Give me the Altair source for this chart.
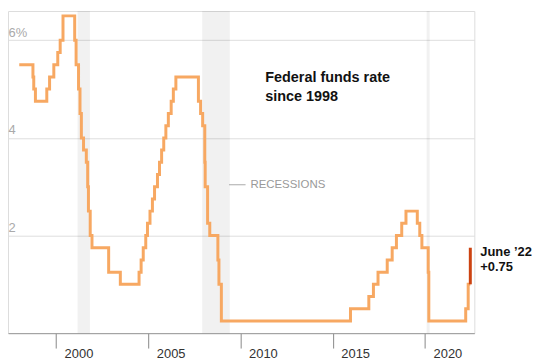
import altair as alt
import pandas as pd

# Fed funds target rate (upper bound), change dates and new levels
change_dates = [
    "1998-01-01", "1998-09-29", "1998-10-15", "1998-11-17", "1999-06-30",
    "1999-08-24", "1999-11-16", "2000-02-02", "2000-03-21", "2000-05-16",
    "2001-01-03", "2001-01-31", "2001-03-20", "2001-04-18", "2001-05-15",
    "2001-06-27", "2001-08-21", "2001-09-17", "2001-10-02", "2001-11-06",
    "2001-12-11", "2002-11-06", "2003-06-25", "2004-06-30", "2004-08-10",
    "2004-09-21", "2004-11-10", "2004-12-14", "2005-02-02", "2005-03-22",
    "2005-05-03", "2005-06-30", "2005-08-09", "2005-09-20", "2005-11-01",
    "2005-12-13", "2006-01-31", "2006-03-28", "2006-05-10", "2006-06-29",
    "2007-09-18", "2007-10-31", "2007-12-11", "2008-01-22", "2008-01-30",
    "2008-03-18", "2008-04-30", "2008-10-08", "2008-10-29", "2008-12-16",
    "2015-12-16", "2016-12-14", "2017-03-15", "2017-06-14", "2017-12-13",
    "2018-03-21", "2018-06-13", "2018-09-26", "2018-12-19", "2019-07-31",
    "2019-09-18", "2019-10-30", "2020-03-03", "2020-03-15", "2022-03-16",
    "2022-05-04", "2022-06-15",
]
rates = [
    5.5, 5.25, 5.0, 4.75, 5.0,
    5.25, 5.5, 5.75, 6.0, 6.5,
    6.0, 5.5, 5.0, 4.5, 4.0,
    3.75, 3.5, 3.0, 2.5, 2.0,
    1.75, 1.25, 1.0, 1.25, 1.5,
    1.75, 2.0, 2.25, 2.5, 2.75,
    3.0, 3.25, 3.5, 3.75, 4.0,
    4.25, 4.5, 4.75, 5.0, 5.25,
    4.75, 4.5, 4.25, 3.5, 3.0,
    2.25, 2.0, 1.5, 1.0, 0.25,
    0.5, 0.75, 1.0, 1.25, 1.5,
    1.75, 2.0, 2.25, 2.5, 2.25,
    2.0, 1.75, 1.25, 0.25, 0.5,
    1.0, 1.0,
]

# Latest hike (June 2022)
latest_date = ["2022-06-15"]
latest_from = [1.0]
latest_to = [1.75]
latest_label = ["June \u201922", "+0.75"]

# Recessions
rec_start = ["2001-03-01", "2007-12-01", "2020-02-01"]
rec_end = ["2001-11-01", "2009-06-01", "2020-04-01"]

x_ticks = [2000, 2005, 2010, 2015, 2020]
y_ticks = [2, 4, 6]

title_lines = ["Federal funds rate", "since 1998"]
rec_label = "RECESSIONS"


def dec_year(s):
    d = pd.Timestamp(s)
    start = pd.Timestamp(year=d.year, month=1, day=1)
    end = pd.Timestamp(year=d.year + 1, month=1, day=1)
    return d.year + (d - start).days / (end - start).days


line_df = pd.DataFrame({"year": [dec_year(d) for d in change_dates], "rate": rates})
hike_df = pd.DataFrame({"year": [dec_year(d) for d in latest_date],
                        "lo": latest_from, "hi": latest_to})
rec_df = pd.DataFrame({"start": [dec_year(d) for d in rec_start],
                       "end": [dec_year(d) for d in rec_end]})

ORANGE = "#f7a862"
RED = "#cc4311"
FONT = "Liberation Sans"

xscale = alt.Scale(domain=[1997.39, 2022.67], nice=False, zero=False)
yscale = alt.Scale(domain=[0, 6.6], nice=False, zero=True)

xaxis = alt.Axis(
    values=x_ticks, format="d", title=None, grid=False,
    tickSize=15, tickColor="#888", domainColor="#999",
    labelAlign="left", labelOffset=8, labelBaseline="alphabetic",
    labelPadding=9, labelFontSize=13, labelColor="#333", labelFont=FONT,
    labelFlush=False,
)
yaxis = alt.Axis(
    values=y_ticks, title=None, grid=True, gridColor="#dedede",
    domain=False, ticks=False, tickSize=0,
    labelAlign="left", labelPadding=0, labelOffset=-4,
    labelBaseline="alphabetic", labelFontSize=13, labelColor="#aaa",
    labelFont=FONT, labelExpr="datum.value == 6 ? '6%' : datum.label",
)

bands = alt.Chart(rec_df).mark_rect(color="#000", opacity=0.055).encode(
    x=alt.X("start:Q", scale=xscale, axis=xaxis),
    x2="end:Q",
    y=alt.datum(6.6, scale=yscale, axis=yaxis),
    y2=alt.datum(0),
)

line = alt.Chart(line_df).mark_line(
    interpolate="step-after", color=ORANGE, strokeWidth=3, strokeJoin="miter"
).encode(
    x=alt.X("year:Q", scale=xscale, axis=xaxis),
    y=alt.Y("rate:Q", scale=yscale, axis=yaxis),
)

hike = alt.Chart(hike_df).mark_rule(color=RED, strokeWidth=3).encode(
    x="year:Q",
    y="lo:Q",
    y2="hi:Q",
)

hike_text = alt.Chart(hike_df).mark_text(
    align="left", baseline="top", dx=10, dy=-2, fontSize=13,
    fontWeight="bold", font=FONT, color="#111", lineHeight=15,
).encode(
    x="year:Q",
    y="hi:Q",
    text=alt.value(latest_label),
)

title = alt.Chart(pd.DataFrame({"x": [2011.33], "y": [5.3]})).mark_text(
    align="left", baseline="top", dy=-3, fontSize=14.5, fontWeight="bold",
    font=FONT, color="#111", lineHeight=19,
).encode(x="x:Q", y="y:Q", text=alt.value(title_lines))

rec_rule = alt.Chart(pd.DataFrame({"x": [2009.37], "x2": [2010.27], "y": [3.04]})).mark_rule(
    color="#aaa", strokeWidth=1
).encode(x="x:Q", x2="x2:Q", y="y:Q")

rec_text = alt.Chart(pd.DataFrame({"x": [2010.53], "y": [3.04]})).mark_text(
    align="left", baseline="middle", fontSize=11.5, font=FONT, color="#999",
).encode(x="x:Q", y="y:Q", text=alt.value(rec_label))

chart = alt.layer(bands, line, hike, hike_text, title, rec_rule, rec_text).properties(
    width=469, height=324
).configure_view(stroke=None).configure(background="white", padding=0)

chart.save("out.html", embed_options={"renderer": "svg", "actions": False})
